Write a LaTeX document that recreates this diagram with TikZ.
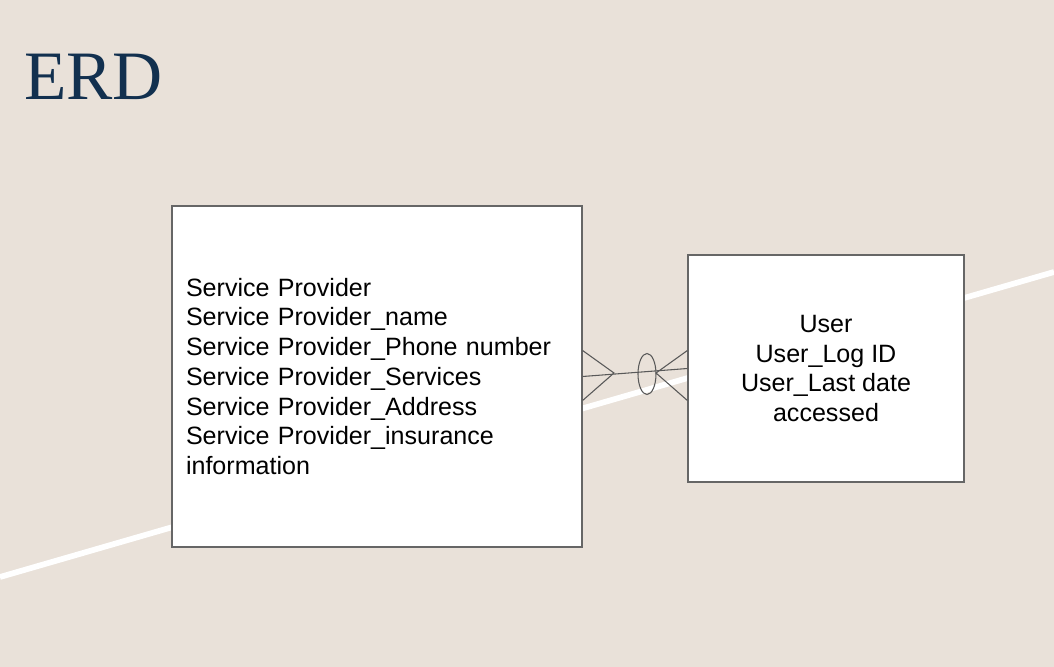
\documentclass[tikz,border=0pt]{standalone}
\usepackage{fontspec}
\setmainfont{Liberation Sans}
\newfontfamily\titlefont{Liberation Serif}
\usepackage{xcolor}
\usepackage{tikz}
\usetikzlibrary{calc,shapes,shapes.geometric,positioning}
\definecolor{slidebg}{RGB}{233,225,217}
\definecolor{titleblue}{RGB}{18,48,79}
\definecolor{boxgray}{RGB}{102,102,102}
\definecolor{linegray}{RGB}{89,89,89}
\tikzset{entity/.style={draw=boxgray, fill=white, line width=0.9pt, inner sep=0pt,
font=\fontsize{18.8}{22.3}\selectfont}, conn/.style={draw=linegray, line width=0.8pt}}

\begin{document}
\begin{tikzpicture}[x=0.75pt,y=-0.75pt]

% the slide

    \fill[slidebg] (0,0) rectangle (1054,667);
    \useasboundingbox (0,0) rectangle (1054,667);
    \draw[white, line width=4.3pt] (0,577) -- (1054,272);
    \node[anchor=base west, inner sep=0pt, text=titleblue, font=\titlefont\fontsize{52}{60}\selectfont] (title) at (24,100) {ERD};

% the entities

    \node[entity, minimum width=307.5pt, minimum height=255.75pt, text width=286.5pt, align=left] (sp) at (377,376.5)
    {Service Provider\\
    Service Provider\_name\\
    Service Provider\_Phone number\\
    Service Provider\_Services\\
    Service Provider\_Address\\
    Service Provider\_insurance\\
    information};
    \node[entity, minimum width=207pt, minimum height=170.25pt, align=center] (usr) at (826,368.5)
    {User\\
    User\_Log ID\\
    User\_Last date\\
    accessed};

% the relation

    \coordinate (cfl) at (614,373);
    \coordinate (cfr) at (656,373);
    \draw[conn] (sp.east) -- (usr.west);
    \draw[conn] ($(sp.east)+(0,-26)$) -- (cfl) -- ($(sp.east)+(0,24)$);
    \draw[conn] ($(usr.west)+(0,-18)$) -- (cfr) -- ($(usr.west)+(0,32)$);
    \node[conn, ellipse, minimum width=13.5pt, minimum height=30.75pt, inner sep=0pt] (opt) at (647,374) {};

\end{tikzpicture}
\end{document}
